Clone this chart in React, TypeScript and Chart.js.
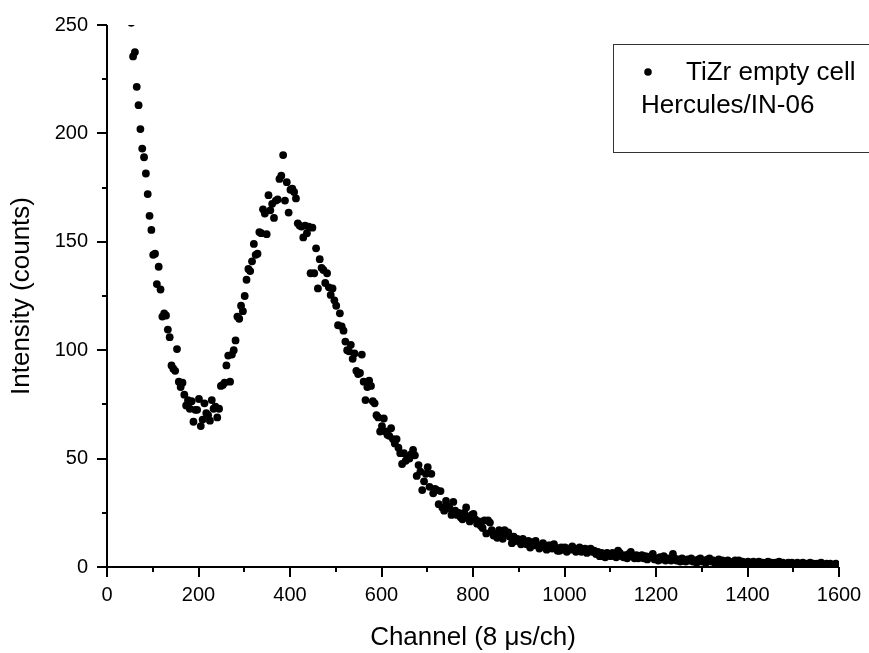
import React, { useEffect, useRef } from 'react';
import { Chart, registerables } from 'chart.js';

Chart.register(...registerables);

// ---- data ----
const CHANNEL_START = 53; // first channel shown
const CHANNEL_STEP = 4; // spacing of the measured channels

// counts for channels 53, 57, 61, ... 1597 (rows of ten)
const COUNTS: number[] = [
  /* 53 */ 251, 235.5, 237.5, 221.5, 213, 202, 193, 189, 181.5, 172,
  /* 93 */ 162, 155.5, 144, 144.5, 130.5, 138.5, 128, 115.5, 117, 116,
  /* 133 */ 109.5, 106, 93, 91.5, 90.5, 100.5, 85.5, 83, 85, 79.5,
  /* 173 */ 74.5, 77, 73, 76.5, 67, 72.5, 72.5, 77.5, 65, 68,
  /* 213 */ 75.5, 71, 70, 67.5, 77, 73, 74, 69, 73, 83.5,
  /* 253 */ 84, 85, 93, 97.5, 85.5, 98, 100, 104.5, 115.5, 114.5,
  /* 293 */ 120.5, 118, 125, 132.5, 137.5, 136.5, 141, 149, 144, 144.5,
  /* 333 */ 154.5, 154, 165, 163, 153.5, 171.5, 164.5, 167.5, 161, 169,
  /* 373 */ 169.5, 179, 180.5, 190, 169, 177.5, 163.5, 174, 174.5, 173,
  /* 413 */ 170, 158.5, 157.5, 157, 152, 157.5, 154, 157, 135.5, 156.5,
  /* 453 */ 135.5, 147, 128.5, 142, 138, 137, 131, 135.5, 129, 125.5,
  /* 493 */ 128.5, 123, 120.5, 111.5, 117, 111, 109, 104, 100, 99.5,
  /* 533 */ 102.5, 96, 98.5, 90.5, 89, 89.5, 98, 85.5, 77, 83,
  /* 573 */ 86, 83.5, 76.5, 75.5, 70, 69, 62.5, 65, 68.5, 62.5,
  /* 613 */ 61, 60.5, 64, 59, 57, 59, 55, 52.5, 47.5, 52.5,
  /* 653 */ 49, 51, 50, 52, 54, 51.5, 42, 47, 44, 35.5,
  /* 693 */ 39.5, 43, 46, 37, 43, 34, 36, 35.5, 29, 35,
  /* 733 */ 27.5, 26, 30.5, 28, 27, 24, 30, 26, 24, 25,
  /* 773 */ 23, 22, 25, 27.5, 23, 21, 24, 24.5, 22, 20,
  /* 813 */ 21, 19, 18, 21.5, 15.5, 21.5, 20.5, 17, 14.5, 15,
  /* 853 */ 13.5, 17, 15, 13, 17, 15, 16, 14, 11, 14,
  /* 893 */ 12, 13, 12, 10.5, 13, 11, 10.5, 12, 9, 11.5,
  /* 933 */ 10, 12, 10, 8.5, 10, 11, 9, 8, 10, 10,
  /* 973 */ 8.5, 10.5, 9, 7.5, 7.5, 9, 8, 9, 7, 8.5,
  /* 1013 */ 8, 9.5, 8.5, 7, 8, 9, 7, 8, 8.5, 6.5,
  /* 1053 */ 8, 8.5, 7, 7.5, 6, 7, 5, 6.5, 5, 4.5,
  /* 1093 */ 6.5, 6, 5, 6.5, 5.5, 4.5, 7.5, 6.5, 5, 4.5,
  /* 1133 */ 5.5, 4, 6, 7, 5, 4, 5.5, 4, 4.5, 5.5,
  /* 1173 */ 4, 5, 3.5, 4.5, 5, 6, 3.5, 4, 3, 4.5,
  /* 1213 */ 3.5, 5, 3, 4, 3.5, 3, 6, 4, 3, 3.5,
  /* 1253 */ 2.5, 4, 3, 2.5, 3.5, 3, 4, 2.5, 3, 2,
  /* 1293 */ 3.5, 4, 2.5, 3, 2, 3.5, 4, 2.5, 3, 2,
  /* 1333 */ 2.5, 3.5, 2, 3, 1.5, 2.5, 3, 2, 1.5, 2.5,
  /* 1373 */ 3, 2, 3, 1.5, 2.5, 2, 1.5, 2.5, 2, 1.5,
  /* 1413 */ 2.5, 1.5, 2, 2.5, 1.5, 2, 1, 2, 2.5, 1.5,
  /* 1453 */ 2, 1, 2, 1.5, 2.5, 1, 2, 1.5, 1, 2,
  /* 1493 */ 1.5, 2, 1, 1.5, 2, 1, 1.5, 2, 1, 1.5,
  /* 1533 */ 1, 2, 1, 1.5, 0.5, 1.5, 1, 2, 1, 0.5,
  /* 1573 */ 1.5, 1, 1.5, 0.5, 1, 1.5, 1,
];

const X_MAJOR = [0, 200, 400, 600, 800, 1000, 1200, 1400, 1600];
const X_MINOR = [100, 300, 500, 700, 900, 1100, 1300, 1500];
const Y_MAJOR = [0, 50, 100, 150, 200, 250];
const Y_MINOR = [25, 75, 125, 175, 225];

const SERIES_LABEL = 'TiZr empty cell';
const LEGEND_NOTE = 'Hercules/IN-06';
const X_TITLE = 'Channel (8 \u03bcs/ch)';
const Y_TITLE = 'Intensity (counts)';

const FONT = "'Liberation Sans', Arial, Helvetica, sans-serif";

const originAxes = {
  id: 'originAxes',
  afterDraw(chart: any) {
    const { ctx, chartArea, scales } = chart;
    const { left, right, top, bottom } = chartArea;
    const xs = scales.x;
    const ys = scales.y;
    ctx.save();
    ctx.strokeStyle = '#000';
    ctx.lineWidth = 2;
    ctx.lineCap = 'butt';
    ctx.beginPath();
    ctx.moveTo(left, top);
    ctx.lineTo(left, bottom + 1);
    ctx.moveTo(left - 1, bottom);
    ctx.lineTo(right, bottom);
    Y_MAJOR.forEach((v) => {
      const py = Math.round(ys.getPixelForValue(v));
      ctx.moveTo(left - 10, py);
      ctx.lineTo(left, py);
    });
    Y_MINOR.forEach((v) => {
      const py = Math.round(ys.getPixelForValue(v));
      ctx.moveTo(left - 5, py);
      ctx.lineTo(left, py);
    });
    X_MAJOR.forEach((v) => {
      const px = Math.round(xs.getPixelForValue(v));
      ctx.moveTo(px, bottom);
      ctx.lineTo(px, bottom + 10);
    });
    X_MINOR.forEach((v) => {
      const px = Math.round(xs.getPixelForValue(v));
      ctx.moveTo(px, bottom);
      ctx.lineTo(px, bottom + 5);
    });
    ctx.stroke();
    ctx.restore();
  },
};

const legendBox = {
  id: 'legendBox',
  afterDraw(chart: any) {
    const { ctx } = chart;
    const bx = 613.5;
    const by = 44.5;
    ctx.save();
    ctx.fillStyle = '#fff';
    ctx.fillRect(bx, by, 300, 108);
    ctx.strokeStyle = '#333';
    ctx.lineWidth = 1;
    ctx.strokeRect(bx, by, 300, 108);
    ctx.fillStyle = '#000';
    ctx.beginPath();
    ctx.arc(648, 72, 3.8, 0, Math.PI * 2);
    ctx.fill();
    ctx.font = `26px ${FONT}`;
    ctx.textBaseline = 'middle';
    ctx.textAlign = 'left';
    ctx.fillText(SERIES_LABEL, 686, 73);
    ctx.fillText(LEGEND_NOTE, 641, 106);
    ctx.restore();
  },
};

export default function App() {
  const canvasRef = useRef<HTMLCanvasElement | null>(null);

  useEffect(() => {
    const canvas = canvasRef.current;
    if (!canvas) return;
    const points = COUNTS.map((c, i) => ({ x: CHANNEL_START + i * CHANNEL_STEP, y: c }));
    const chart = new Chart(canvas, {
      type: 'scatter',
      data: {
        datasets: [
          {
            label: SERIES_LABEL,
            data: points,
            pointRadius: 3.9,
            pointHoverRadius: 3.9,
            pointBackgroundColor: '#000',
            pointBorderColor: '#000',
            pointBorderWidth: 0,
            clip: 0,
          } as any,
        ],
      },
      options: {
        responsive: false,
        animation: false,
        events: [],
        layout: { padding: { left: 0, top: 25, right: 30, bottom: 0 } },
        plugins: {
          legend: { display: false },
          tooltip: { enabled: false },
        },
        scales: {
          x: {
            type: 'linear',
            min: 0,
            max: 1600,
            grid: { display: false, drawTicks: false },
            border: { display: false },
            ticks: {
              stepSize: 200,
              padding: 16,
              color: '#000',
              maxRotation: 0,
              font: { size: 20, family: FONT },
              callback: (v: any) => String(v),
            },
            title: {
              display: true,
              text: X_TITLE,
              color: '#000',
              font: { size: 26, family: FONT },
              padding: { top: 0, bottom: 0 },
            },
            afterFit: (s: any) => {
              s.height = 86;
              s.paddingLeft = 0;
              s.paddingRight = 0;
            },
          },
          y: {
            type: 'linear',
            min: 0,
            max: 250,
            grid: { display: false, drawTicks: false },
            border: { display: false },
            ticks: {
              stepSize: 50,
              padding: 19,
              color: '#000',
              font: { size: 20, family: FONT },
              callback: (v: any) => String(v),
            },
            title: {
              display: true,
              text: Y_TITLE,
              color: '#000',
              font: { size: 26, family: FONT },
              padding: { top: 6, bottom: 0 },
            },
            afterFit: (s: any) => {
              s.width = 107;
              s.paddingTop = 0;
              s.paddingBottom = 0;
            },
          },
        },
      } as any,
      plugins: [originAxes, legendBox],
    });
    return () => chart.destroy();
  }, []);

  return (
    <div style={{ position: 'fixed', left: 0, top: 0, width: 869, height: 653, background: '#fff' }}>
      <canvas ref={canvasRef} width={869} height={653} style={{ display: 'block' }} />
    </div>
  );
}
